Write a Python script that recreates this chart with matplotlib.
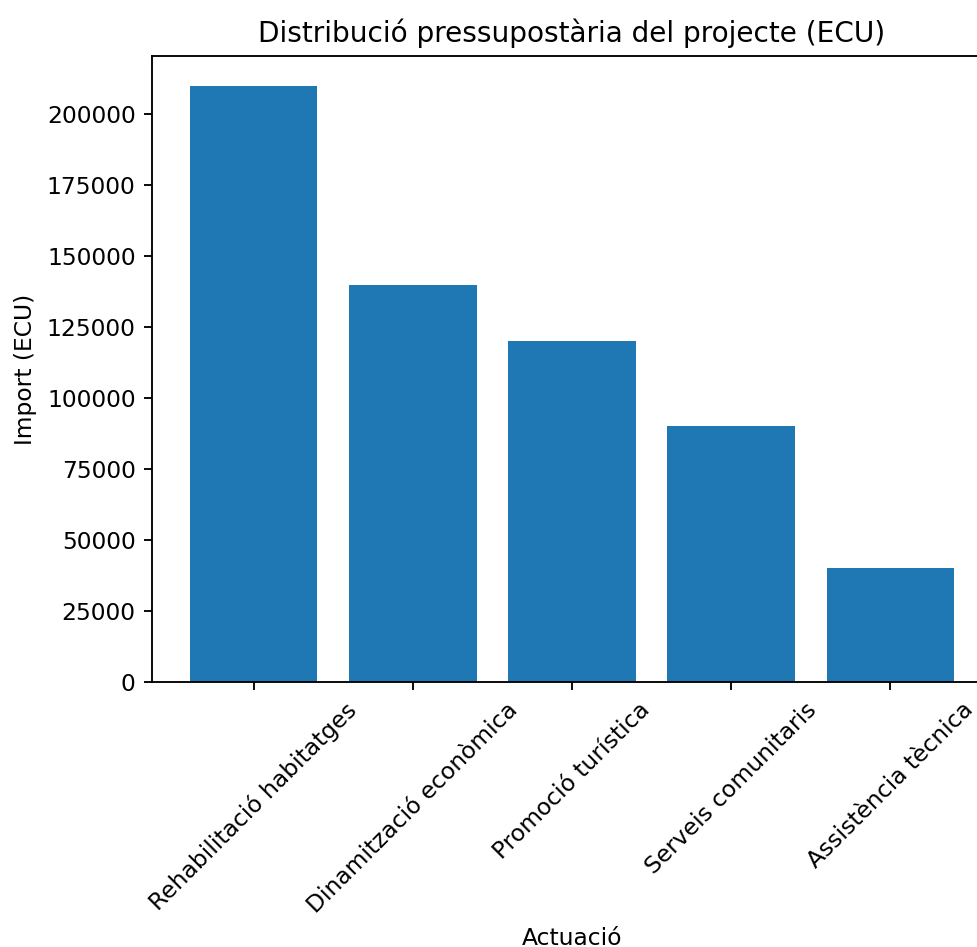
import matplotlib
matplotlib.use("Agg")
import matplotlib.pyplot as plt

# dades del pressupost
actuacions = ["Rehabilitació habitatges", "Dinamització econòmica",
              "Promoció turística", "Serveis comunitaris", "Assistència tècnica"]
imports = [210000, 140000, 120000, 90000, 40000]

W, H, DPI = 977, 947, 168
fig = plt.figure(figsize=(W / DPI, H / DPI), dpi=DPI)
ax = fig.add_axes([152 / W, (H - 682) / H, (992 - 152) / W, (682 - 56) / H])

ax.bar(actuacions, imports)
ax.set_title("Distribució pressupostària del projecte (ECU)")
ax.set_xlabel("Actuació")
ax.set_ylabel("Import (ECU)")
plt.setp(ax.get_xticklabels(), rotation=45)

fig.savefig("out.png", dpi=DPI)
